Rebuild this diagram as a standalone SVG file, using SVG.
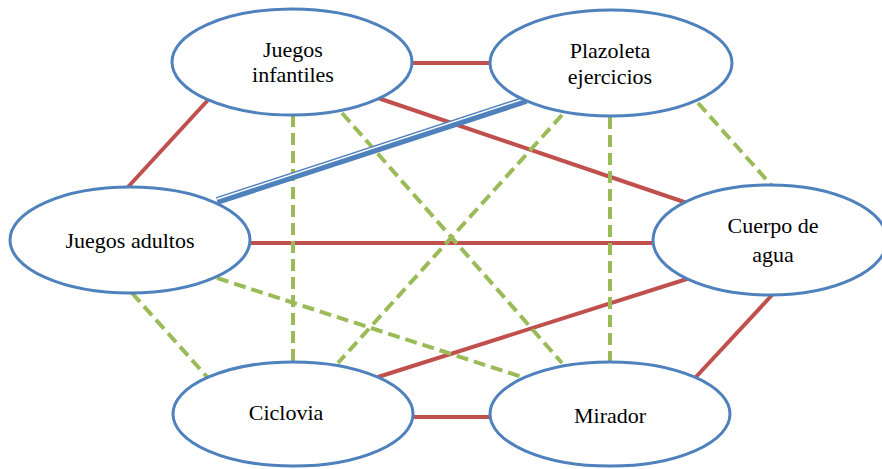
<svg xmlns="http://www.w3.org/2000/svg" width="882" height="469" viewBox="0 0 882 469">
<style>
.node ellipse{fill:#fff;stroke:#4F81BD;stroke-width:3}
.node text{font-family:"Liberation Serif","Times New Roman",serif;font-size:22px;fill:#000;text-anchor:middle}
.red{stroke:#C0504D;stroke-width:4;fill:none}
.green{stroke:#9BBB59;stroke-width:4;stroke-dasharray:12 6;fill:none}
</style>
<rect width="882" height="469" fill="#fff"/>
<g id="connectors">
<line class="red" x1="412" y1="63" x2="492" y2="63"/>
<line class="red" x1="208" y1="100" x2="128" y2="187"/>
<line class="red" x1="378" y1="98" x2="690" y2="204"/>
<line class="red" x1="250" y1="243" x2="655" y2="243" stroke-width="5"/>
<line class="red" x1="378" y1="377" x2="690" y2="278"/>
<line class="red" x1="413" y1="417" x2="491" y2="417" stroke-width="6"/>
<line class="red" x1="773" y1="294" x2="695" y2="378"/>
<line class="green" x1="293" y1="115" x2="293" y2="362"/>
<line class="green" x1="342" y1="113" x2="562" y2="363"/>
<line class="green" x1="562" y1="115" x2="338" y2="363"/>
<line class="green" x1="610" y1="117" x2="610" y2="362"/>
<line class="green" x1="698" y1="103" x2="773" y2="187"/>
<line class="green" x1="132" y1="293" x2="208" y2="378"/>
<line class="green" x1="217" y1="278" x2="525" y2="378"/>
<line x1="217" y1="201" x2="526" y2="100" stroke="#4F81BD" stroke-width="8"/>
<line x1="216.5" y1="199.2" x2="525.5" y2="98.2" stroke="#fff" stroke-width="1.5"/>
</g>
<g id="juegos-infantiles" class="node">
<ellipse cx="292" cy="62" rx="120" ry="53"/>
<text x="293" y="57">Juegos</text>
<text x="293" y="82">infantiles</text>
</g>
<g id="plazoleta-ejercicios" class="node">
<ellipse cx="611" cy="63" rx="121" ry="53"/>
<text x="610" y="58">Plazoleta</text>
<text x="610" y="84">ejercicios</text>
</g>
<g id="juegos-adultos" class="node">
<ellipse cx="130" cy="240" rx="120" ry="53"/>
<text x="130" y="248">Juegos adultos</text>
</g>
<g id="cuerpo-de-agua" class="node">
<ellipse cx="770" cy="240" rx="117" ry="55"/>
<text x="773" y="233">Cuerpo de</text>
<text x="773" y="262">agua</text>
</g>
<g id="ciclovia" class="node">
<ellipse cx="293" cy="414" rx="120" ry="52"/>
<text x="286" y="420">Ciclovia</text>
</g>
<g id="mirador" class="node">
<ellipse cx="610" cy="414" rx="120" ry="52"/>
<text x="610" y="423">Mirador</text>
</g>
</svg>
